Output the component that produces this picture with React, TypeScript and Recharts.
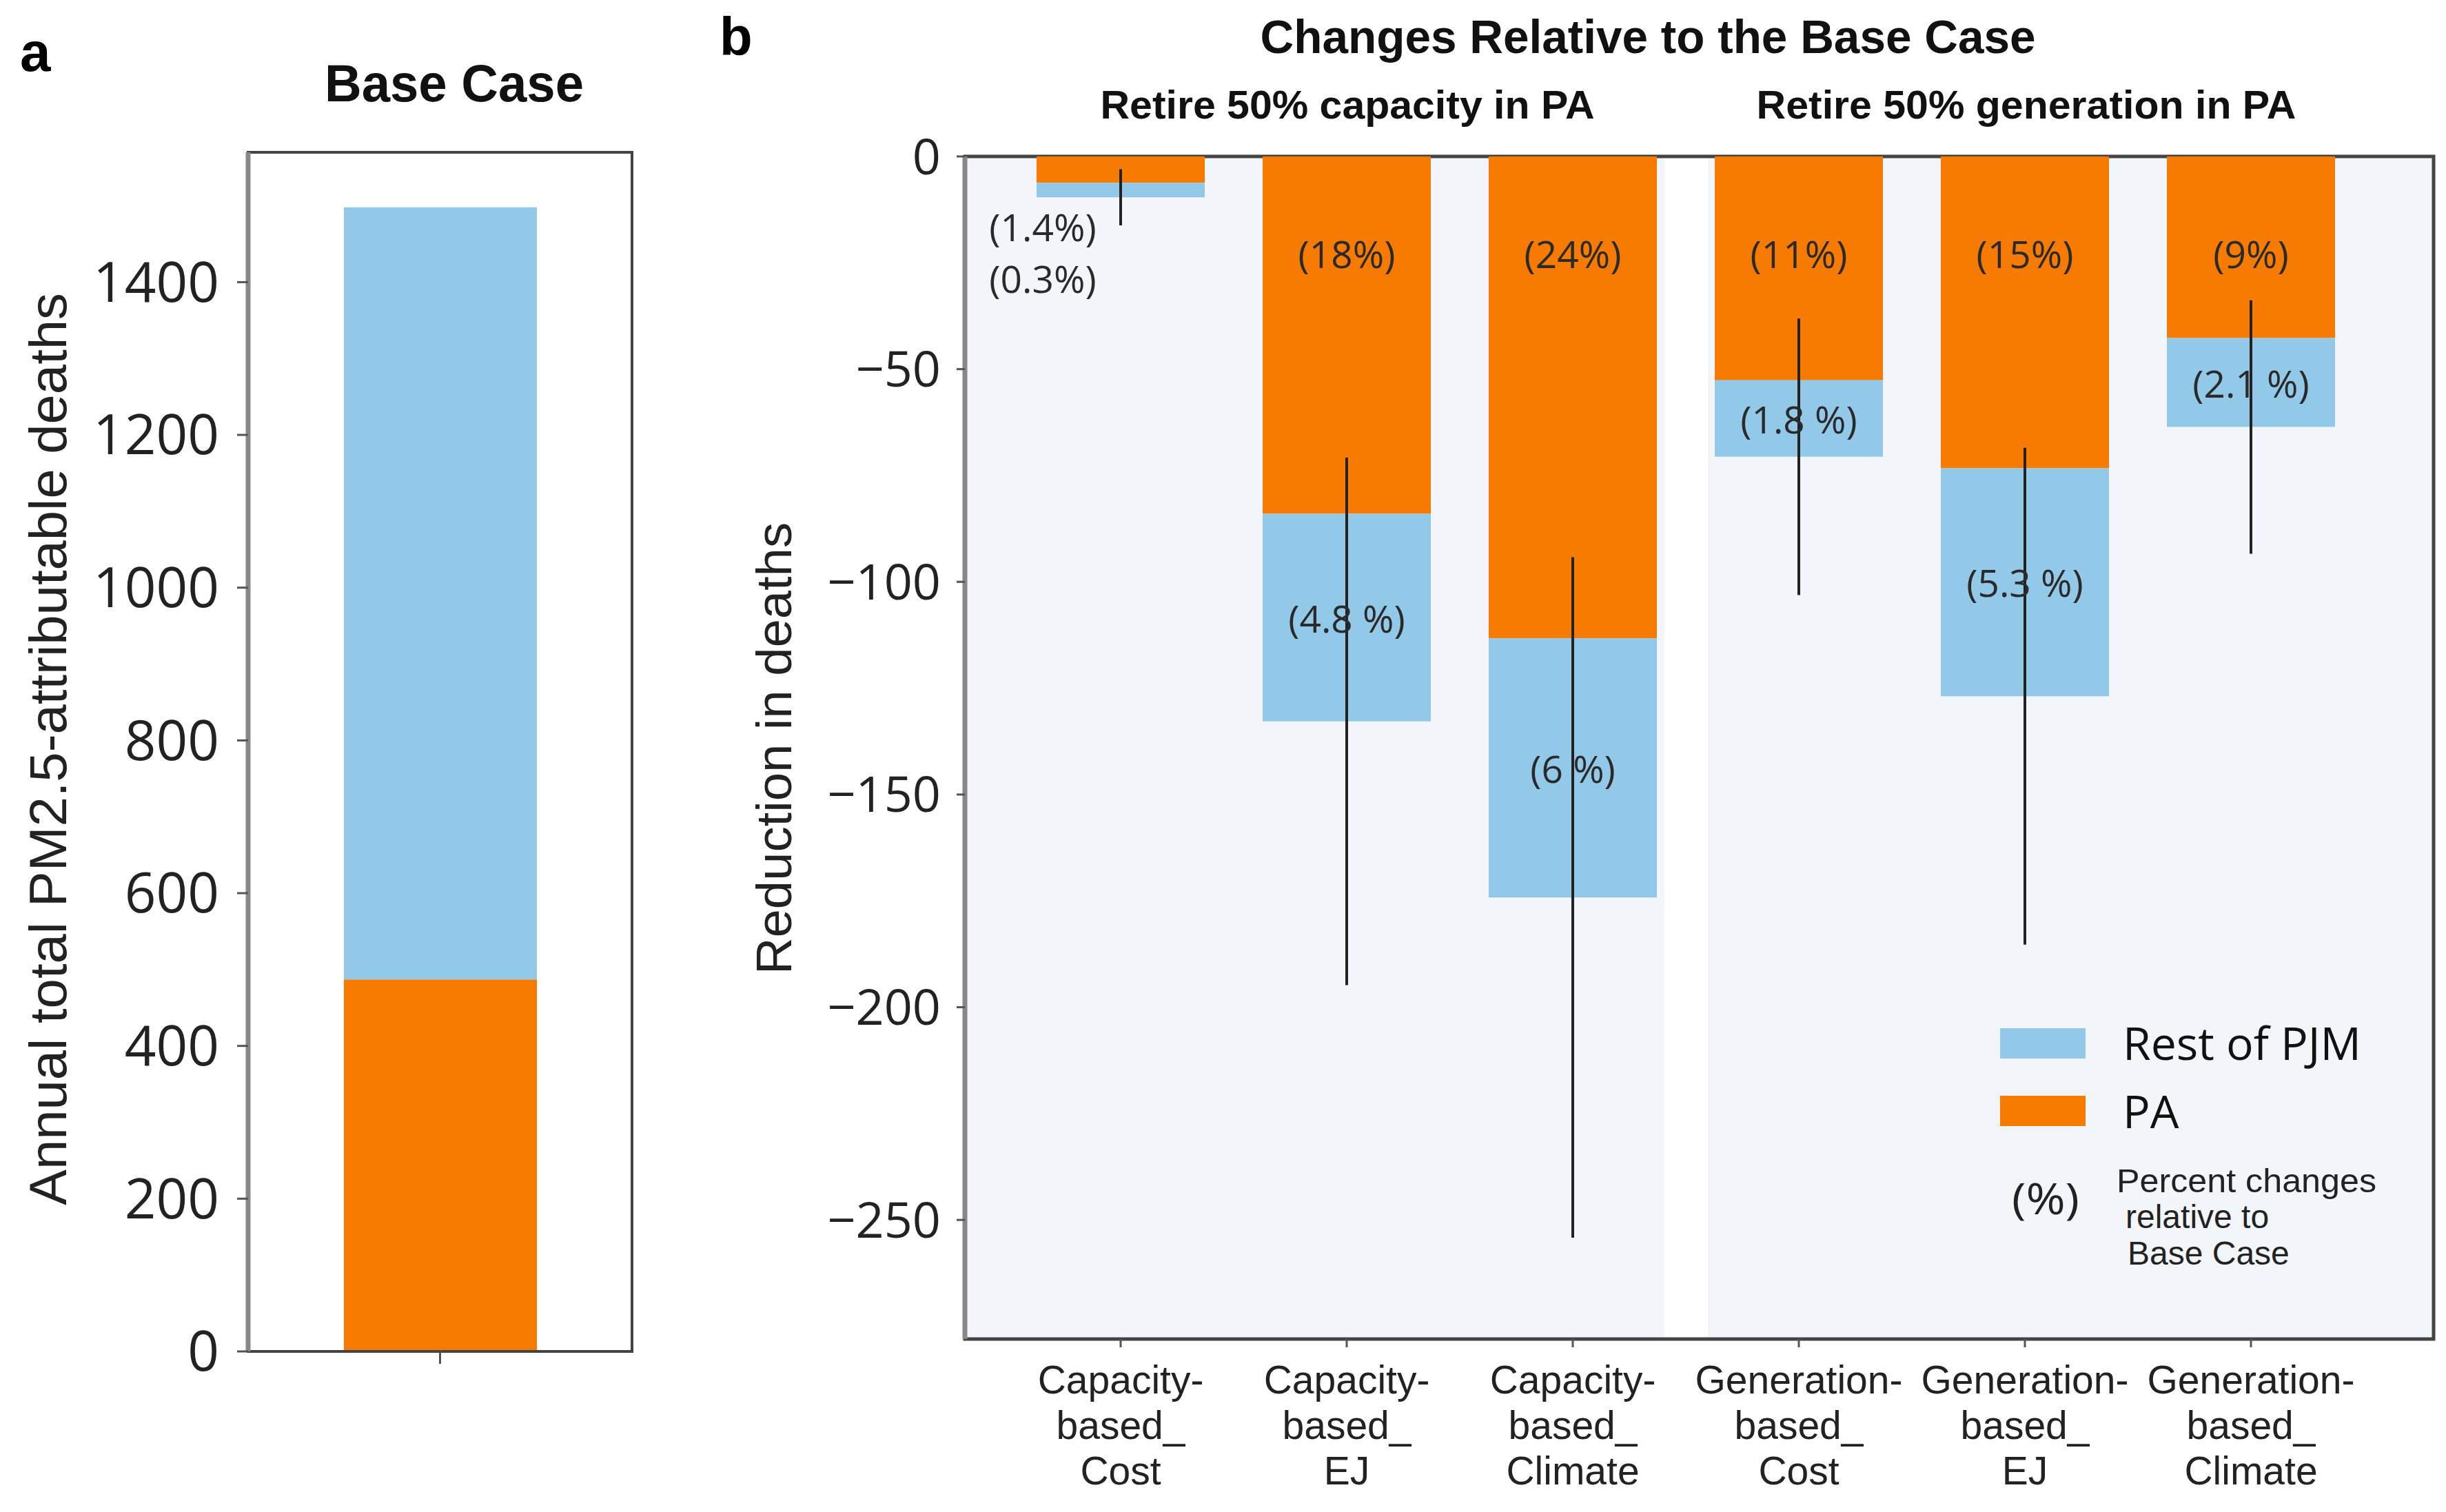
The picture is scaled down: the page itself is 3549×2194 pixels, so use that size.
import React from 'react';
import { BarChart, Bar, XAxis, YAxis, ErrorBar, LabelList, ReferenceArea, Legend } from 'recharts';

const ORANGE = '#f77b00';
const BLUE = '#93c9e8';
const SHADE = '#f2f5f9';
const SANS = "'Liberation Sans', Arial, sans-serif";
const OPEN = "'Open Sans', sans-serif";

// ---------- Panel a data ----------
const baseCategories = ['Base Case'];
const basePA = [487];
const baseRest = [1011];
const baseTicks = [0, 200, 400, 600, 800, 1000, 1200, 1400];
const baseDomain = [0, 1570];

// ---------- Panel b data ----------
const scenarioLabels = [
  ['Capacity-', 'based_', 'Cost'],
  ['Capacity-', 'based_', 'EJ'],
  ['Capacity-', 'based_', 'Climate'],
  ['Generation-', 'based_', 'Cost'],
  ['Generation-', 'based_', 'EJ'],
  ['Generation-', 'based_', 'Climate'],
];
const paReduction = [-6.2, -84.0, -113.3, -52.6, -73.3, -42.7];
const restReduction = [-3.4, -48.8, -60.9, -18.0, -53.6, -20.9];
const totalError = [6.6, 62, 80, 32.5, 58.4, 29.8];
const paPctLabels = ['(1.4%)', '(18%)', '(24%)', '(11%)', '(15%)', '(9%)'];
const restPctLabels = ['(0.3%)', '(4.8 %)', '(6 %)', '(1.8 %)', '(5.3 %)', '(2.1 %)'];
const reductionTicks = [0, -50, -100, -150, -200, -250];
const reductionDomain = [-278, 0];
const groupSpans = [
  [-0.689, 2.405],
  [2.598, 5.808],
];
const bgDomain = [groupSpans[0][0], groupSpans[1][1]];

const baseData = baseCategories.map((c, i) => ({ name: c, pa: basePA[i], rest: baseRest[i] }));
const scenarioData = scenarioLabels.map((lines, i) => ({
  name: lines.join(''),
  idx: i,
  pa: paReduction[i],
  rest: restReduction[i],
  err: totalError[i],
  paLabel: paPctLabels[i],
  restLabel: restPctLabels[i],
}));

const fmtMinus = (v: number) => (v < 0 ? '\u2212' + Math.abs(v) : String(v));

const ScenarioTick = (props: any) => {
  const { x, y, payload } = props;
  const i = scenarioData.findIndex((d) => d.name === payload.value);
  const lines = i >= 0 ? scenarioLabels[i] : [String(payload.value)];
  return (
    <text x={x} y={y} textAnchor="middle" fontFamily={SANS} fontSize={57} fill="#222">
      {lines.map((l, k) => (
        <tspan key={k} x={x} dy={k === 0 ? 59 : 66}>
          {l}
        </tspan>
      ))}
    </text>
  );
};

const rectOf = (props: any) => {
  const vb = props.viewBox && props.viewBox.width !== undefined ? props.viewBox : props;
  const x = Number(vb.x);
  const y = Number(vb.y);
  const w = Number(vb.width);
  const h = Number(vb.height);
  return { x, top: Math.min(y, y + h), hh: Math.abs(h), cx: x + w / 2 };
};

const PaLabel = (props: any) => {
  const { top, hh, cx } = rectOf(props);
  const small = hh < 80;
  const lx = small ? cx - 113 : cx;
  const ly = small ? top + 101 : top + 140;
  return (
    <text x={lx} y={ly} textAnchor="middle" dominantBaseline="central" fontFamily={OPEN} fontSize={55} fill="#2a2a2a">
      {props.value}
    </text>
  );
};

const RestLabel = (props: any) => {
  const { top, hh, cx } = rectOf(props);
  const small = hh < 60;
  const lx = small ? cx - 113 : cx;
  const ly = small ? top + 138 : top + hh / 2;
  return (
    <text x={lx} y={ly} textAnchor="middle" dominantBaseline="central" fontFamily={OPEN} fontSize={55} fill="#2a2a2a">
      {props.value}
    </text>
  );
};

const LegendBox = () => (
  <svg width={600} height={420} style={{ overflow: 'visible' }}>
    <rect x={2} y={32} width={124} height={44} fill={BLUE} />
    <text x={180} y={78} fontFamily={OPEN} fontSize={66} fill="#111" textLength={346} lengthAdjust="spacingAndGlyphs">
      Rest of PJM
    </text>
    <rect x={2} y={130} width={124} height={44} fill={ORANGE} />
    <text x={180} y={177} fontFamily={OPEN} fontSize={66} fill="#111">
      PA
    </text>
    <text x={68} y={302} textAnchor="middle" fontFamily={OPEN} fontSize={62} fill="#222" textLength={98} lengthAdjust="spacingAndGlyphs">
      (%)
    </text>
    <text x={171} y={270} fontFamily={SANS} fontSize={48} fill="#222" textLength={377} lengthAdjust="spacingAndGlyphs">
      Percent changes
    </text>
    <text x={184} y={322} fontFamily={SANS} fontSize={48} fill="#222">
      relative to
    </text>
    <text x={187} y={375} fontFamily={SANS} fontSize={48} fill="#222">
      Base Case
    </text>
  </svg>
);

const frame = { stroke: '#444', strokeWidth: 4 };
const leftFrame = { stroke: '#888', strokeWidth: 7 };

export default function App() {
  return (
    <div style={{ position: 'absolute', left: 0, top: 0, width: 3549, height: 2194, background: '#fff', overflow: 'hidden' }}>
      <div style={{ position: 'absolute', left: 0, top: 0 }}>
        <BarChart width={960} height={2194} data={baseData} margin={{ top: 221, right: 43, bottom: 173, left: 0 }}>
          <ReferenceArea
            y1={baseDomain[0]}
            y2={baseDomain[1]}
            fill="none"
            stroke="#444"
            strokeWidth={4}
            ifOverflow="visible"
          />
          <XAxis
            dataKey="name"
            height={60}
            tickFormatter={() => ''}
            tickSize={18}
            axisLine={frame}
            tickLine={{ stroke: '#555', strokeWidth: 3 }}
          />
          <YAxis
            width={360}
            domain={baseDomain}
            ticks={baseTicks}
            interval={0}
            allowDataOverflow
            tickSize={16}
            tickMargin={26}
            tick={{ fontFamily: OPEN, fontSize: 80, fill: '#222' }}
            axisLine={leftFrame}
            tickLine={{ stroke: '#555', strokeWidth: 3 }}
          />
          <Bar dataKey="pa" stackId="a" fill={ORANGE} barSize={280} isAnimationActive={false} />
          <Bar dataKey="rest" stackId="a" fill={BLUE} barSize={280} isAnimationActive={false} />
        </BarChart>
      </div>

      <div style={{ position: 'absolute', left: 1000, top: 0 }}>
        <BarChart width={2549} height={2194} data={scenarioData} margin={{ top: 227, right: 18, bottom: 51, left: 0 }}>
          <XAxis xAxisId="bg" type="number" dataKey="idx" domain={bgDomain} allowDataOverflow hide />
          <XAxis
            dataKey="name"
            height={200}
            padding={{ left: 62, right: 101 }}
            interval={0}
            tick={<ScenarioTick />}
            tickSize={12}
            tickMargin={8}
            axisLine={frame}
            tickLine={{ stroke: '#555', strokeWidth: 3 }}
          />
          <YAxis
            width={400}
            domain={reductionDomain}
            ticks={reductionTicks}
            interval={0}
            allowDataOverflow
            tickFormatter={fmtMinus}
            tickSize={12}
            tickMargin={23}
            tick={{ fontFamily: OPEN, fontSize: 72, fill: '#222' }}
            axisLine={leftFrame}
            tickLine={{ stroke: '#555', strokeWidth: 3 }}
          />
          {groupSpans.map((s, i) => (
            <ReferenceArea key={i} xAxisId="bg" x1={s[0]} x2={s[1]} fill={SHADE} fillOpacity={1} stroke="none" />
          ))}
          <ReferenceArea
            xAxisId="bg"
            x1={bgDomain[0]}
            x2={bgDomain[1]}
            y1={reductionDomain[0]}
            y2={reductionDomain[1]}
            fill="none"
            stroke="#444"
            strokeWidth={5}
            ifOverflow="visible"
          />
          <Bar dataKey="pa" stackId="s" fill={ORANGE} barSize={244} isAnimationActive={false}>
            <LabelList dataKey="paLabel" content={PaLabel} />
          </Bar>
          <Bar dataKey="rest" stackId="s" fill={BLUE} barSize={244} isAnimationActive={false}>
            <ErrorBar dataKey="err" width={0} stroke="#222" strokeWidth={4} direction="y" />
            <LabelList dataKey="restLabel" content={RestLabel} />
          </Bar>
          <Legend
            layout="horizontal"
            verticalAlign="middle"
            align="center"
            wrapperStyle={{ left: 1900, top: 1460, width: 600, height: 420 }}
            content={() => <LegendBox />}
          />
        </BarChart>
      </div>

      <svg width={3549} height={2194} style={{ position: 'absolute', left: 0, top: 0, pointerEvents: 'none' }}>
        <text x={29} y={103} fontFamily={SANS} fontWeight="bold" fontSize={80} fill="#000">a</text>
        <text x={1044} y={80} fontFamily={SANS} fontWeight="bold" fontSize={78} fill="#000">b</text>
        <text x={659} y={147} textAnchor="middle" fontFamily={SANS} fontWeight="bold" fontSize={76} fill="#111" textLength={376} lengthAdjust="spacingAndGlyphs">
          Base Case
        </text>
        <text x={2391} y={77} textAnchor="middle" fontFamily={SANS} fontWeight="bold" fontSize={68} fill="#111" textLength={1125} lengthAdjust="spacingAndGlyphs">
          Changes Relative to the Base Case
        </text>
        <text x={1955} y={172} textAnchor="middle" fontFamily={SANS} fontWeight="bold" fontSize={58} fill="#111" textLength={717} lengthAdjust="spacingAndGlyphs">
          Retire 50% capacity in PA
        </text>
        <text x={2940} y={172} textAnchor="middle" fontFamily={SANS} fontWeight="bold" fontSize={58} fill="#111" textLength={783} lengthAdjust="spacingAndGlyphs">
          Retire 50% generation in PA
        </text>
        <text x={96} y={1087} transform="rotate(-90 96 1087)" textAnchor="middle" fontFamily={SANS} fontSize={76} fill="#222" textLength={1324} lengthAdjust="spacingAndGlyphs">
          Annual total PM2.5-attributable deaths
        </text>
        <text x={1148} y={1086} transform="rotate(-90 1148 1086)" textAnchor="middle" fontFamily={SANS} fontSize={72} fill="#222" textLength={656} lengthAdjust="spacingAndGlyphs">
          Reduction in deaths
        </text>
      </svg>
    </div>
  );
}
